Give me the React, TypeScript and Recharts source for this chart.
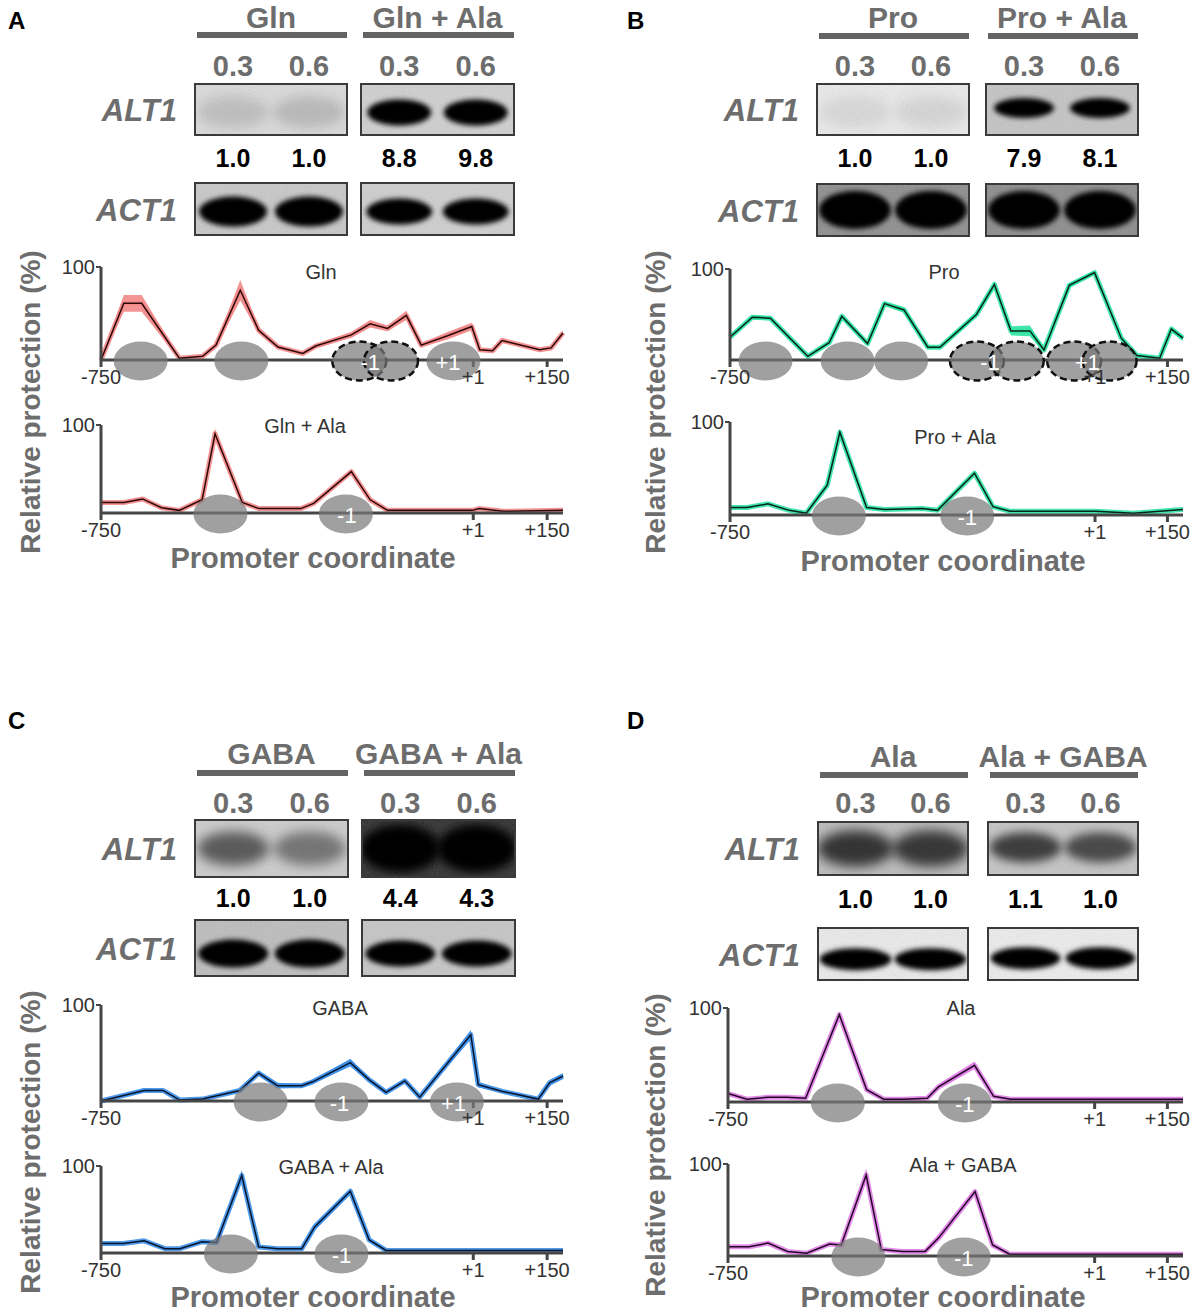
import React from 'react';
import { ComposedChart, Area, Line, XAxis, YAxis, ReferenceDot } from 'recharts';

// ---------- profile data (position in bp, mean % protection, error) ----------
const X_TICKS = [-750, 1, 150];
const X_MAX = 182;

const glnPos = [-750, -704, -668, -592, -545, -518, -469, -432, -393, -343, -317, -245, -207, -172, -134, -104, -51, -2, 14, 40, 59, 135, 158, 182];
const glnMean = [0, 61, 61, 2, 4, 16, 75, 32, 14, 7, 15, 27, 39, 34, 48, 16, 26, 36, 11, 10, 21, 11, 13, 29];
const glnErr = [1, 9, 9, 1, 1, 2, 11, 3, 2, 1, 2, 3, 4, 3, 5, 2, 4, 4, 1, 1, 2, 1, 1, 3];

const glnAlaPos = [-750, -704, -666, -628, -592, -546, -520, -465, -431, -347, -321, -245, -207, -172, -1, 13, 62, 182];
const glnAlaMean = [12, 12, 16, 6, 3, 15, 90, 12, 5, 5, 11, 47, 15, 3, 3, 5, 2, 3];
const glnAlaErr = [2, 2, 2, 1, 1, 3, 6, 2, 1, 1, 1, 3, 2, 1, 1, 1, 1, 1];

const proPos = [-750, -704, -667, -590, -546, -520, -467, -432, -392, -343, -318, -243, -206, -172, -133, -104, -52, 0, 55, 87, 134, 158, 182];
const proMean = [25, 47, 46, 4, 19, 48, 18, 62, 55, 14, 14, 50, 83, 32, 32, 11, 82, 96, 24, 5, 2, 34, 24];
const proErr = [2, 2, 2, 1, 2, 3, 2, 2, 3, 2, 2, 3, 2, 5, 6, 2, 3, 2, 2, 1, 1, 3, 3];

const proAlaPos = [-750, -715, -672, -628, -593, -550, -524, -469, -432, -354, -323, -247, -209, -174, 2, 80, 182];
const proAlaMean = [8, 8, 12, 5, 2, 32, 89, 8, 6, 7, 5, 45, 9, 4, 4, 2, 6];
const proAlaErr = [1, 1, 1, 1, 1, 2, 3, 1, 1, 1, 1, 2, 1, 1, 1, 1, 1];

const gabaPos = [-750, -663, -625, -591, -545, -470, -432, -394, -345, -323, -247, -209, -175, -137, -107, -4, 11, 60, 132, 155, 182];
const gabaMean = [0, 11, 11, 1, 2, 11, 29, 16, 16, 20, 40, 22, 9, 21, 4, 69, 17, 10, 2, 19, 26];
const gabaErr = [1, 2, 1, 1, 1, 1, 2, 3, 2, 2, 4, 2, 2, 2, 1, 5, 3, 1, 1, 3, 3];

const gabaAlaPos = [-750, -705, -663, -621, -591, -546, -517, -466, -432, -394, -345, -319, -247, -209, -175, -5, 182];
const gabaAlaMean = [11, 11, 14, 5, 5, 13, 12, 89, 7, 5, 5, 30, 71, 15, 3, 3, 3];
const gabaAlaErr = [1, 1, 1, 1, 1, 1, 1, 6, 1, 1, 1, 4, 3, 2, 1, 1, 1];

const alaPos = [-750, -711, -668, -630, -591, -522, -466, -431, -389, -342, -319, -245, -206, -171, -1, 182];
const alaMean = [9, 3, 5, 5, 4, 93, 13, 3, 3, 4, 16, 39, 6, 3, 3, 3];
const alaErr = [1, 1, 1, 1, 1, 2, 2, 1, 1, 1, 3, 4, 1, 1, 1, 1];

const alaGabaPos = [-750, -707, -668, -628, -589, -542, -518, -467, -436, -393, -346, -318, -244, -208, -173, 0, 182];
const alaGabaMean = [10, 10, 14, 5, 3, 13, 12, 88, 7, 5, 5, 20, 70, 12, 2, 2, 2];
const alaGabaErr = [1, 1, 1, 1, 1, 1, 1, 7, 1, 1, 1, 4, 3, 2, 1, 1, 1];

// nucleosome positions (bp); dashed = fuzzy / alternative position
const glnNucs = [{ at: -670 }, { at: -467 }, { at: -229, dashed: true }, { at: -165, dashed: true }, { at: -39 }];
const glnNucLabels = [{ at: -207, text: '-1' }, { at: -50, text: '+1' }];
const glnAlaNucs = [{ at: -509 }, { at: -256 }];
const glnAlaNucLabels = [{ at: -254, text: '-1' }];
const proNucs = [{ at: -677 }, { at: -508 }, { at: -398 }, { at: -242, dashed: true }, { at: -160, dashed: true }, { at: -42, dashed: true }, { at: 31, dashed: true }];
const proNucLabels = [{ at: -215, text: '-1' }, { at: -15, text: '+1' }];
const proAlaNucs = [{ at: -526 }, { at: -262 }];
const proAlaNucLabels = [{ at: -262, text: '-1' }];
const gabaNucs = [{ at: -428 }, { at: -265 }, { at: -32 }];
const gabaNucLabels = [{ at: -269, text: '-1' }, { at: -39, text: '+1' }];
const gabaAlaNucs = [{ at: -488 }, { at: -265 }];
const gabaAlaNucLabels = [{ at: -265, text: '-1' }];
const alaNucs = [{ at: -525 }, { at: -265 }];
const alaNucLabels = [{ at: -265, text: '-1' }];
const alaGabaNucs = [{ at: -483 }, { at: -267 }];
const alaGabaNucLabels = [{ at: -267, text: '-1' }];

// ---------- northern blot text ----------
const odLabels = ['0.3', '0.6'];
const conditionsA = ['Gln', 'Gln + Ala'];
const conditionsB = ['Pro', 'Pro + Ala'];
const conditionsC = ['GABA', 'GABA + Ala'];
const conditionsD = ['Ala', 'Ala + GABA'];
const alt1A = ['1.0', '1.0', '8.8', '9.8'];
const alt1B = ['1.0', '1.0', '7.9', '8.1'];
const alt1C = ['1.0', '1.0', '4.4', '4.3'];
const alt1D = ['1.0', '1.0', '1.1', '1.0'];

const FONT = "'Liberation Sans', Arial, Helvetica, sans-serif";
const GRAY = '#6d6d6d';
const AXIS = '#464646';

type Nuc = { at: number; dashed?: boolean };
type NucLabel = { at: number; text: string };
type GelLook = { bg: string; alpha: number[]; rx: number; ry: number; cy: number; blur: number };

const Y_W = 52;
const M_T = 14;
const M_R = 8;
const X_H = 36;

const fmtTick = (v: number) => (v > 0 ? `+${v}` : `${v}`);

interface ProfileProps {
  axisX: number; plotW: number; top: number; zero: number;
  pos: number[]; mean: number[]; err: number[];
  nucs: Nuc[]; labels: NucLabel[];
  fill: string; stroke: string;
}

function Profile({ axisX, plotW, top, zero, pos, mean, err, nucs, labels, fill, stroke }: ProfileProps) {
  const plotH = zero - top;
  const width = Y_W + plotW + M_R;
  const height = M_T + plotH + X_H;
  const data = pos.map((p, i) => ({
    pos: p,
    mean: mean[i],
    band: [Math.max(0, mean[i] - err[i]), mean[i] + err[i]],
  }));
  return (
    <div style={{ position: 'absolute', left: axisX - Y_W, top: top - M_T, width, height }}>
      <ComposedChart width={width} height={height} data={data} margin={{ top: M_T, right: M_R, bottom: 0, left: 0 }}>
        <XAxis
          type="number"
          dataKey="pos"
          domain={[-750, X_MAX]}
          ticks={X_TICKS}
          interval={0}
          tickFormatter={fmtTick}
          height={X_H}
          tickSize={7}
          tickMargin={3}
          axisLine={{ stroke: AXIS, strokeWidth: 3 }}
          tickLine={{ stroke: AXIS, strokeWidth: 3 }}
          tick={{ fontSize: 20, fill: '#333', fontFamily: FONT }}
        />
        <YAxis
          type="number"
          domain={[0, 100]}
          ticks={[100]}
          width={Y_W}
          tickSize={5}
          tickMargin={1}
          axisLine={{ stroke: AXIS, strokeWidth: 3 }}
          tickLine={{ stroke: AXIS, strokeWidth: 2 }}
          tick={{ fontSize: 20, fill: '#333', fontFamily: FONT }}
        />
        {nucs.map((n, i) => (
          <ReferenceDot
            key={`n${i}`}
            x={n.at}
            y={0}
            shape={(p: any) => (
              <ellipse
                cx={p.cx}
                cy={p.cy + 1}
                rx={27}
                ry={19.5}
                fill="#777"
                fillOpacity={0.7}
                stroke={n.dashed ? '#111' : 'none'}
                strokeWidth={2.5}
                strokeDasharray={n.dashed ? '7 4' : undefined}
              />
            )}
          />
        ))}
        <Area dataKey="band" stroke="none" fill={fill} fillOpacity={0.9} isAnimationActive={false} />
        <Line dataKey="mean" stroke={fill} strokeOpacity={0.9} strokeWidth={5} strokeLinejoin="round" dot={false} activeDot={false} isAnimationActive={false} />
        <Line dataKey="mean" stroke={stroke} strokeWidth={1.5} dot={false} activeDot={false} isAnimationActive={false} />
        {labels.map((l, i) => (
          <ReferenceDot
            key={`l${i}`}
            x={l.at}
            y={0}
            shape={(p: any) => (
              <text x={p.cx} y={p.cy + 2} textAnchor="middle" dominantBaseline="central" fontSize={22} fill="#fff" fontFamily={FONT}>
                {l.text}
              </text>
            )}
          />
        ))}
      </ComposedChart>
    </div>
  );
}

// ---------- blot panel (drawn as an svg overlay) ----------
interface BlotLayout {
  letter: string; lx: number; ly: number;
  boxes: number[][];
  headerY: number; barY: number; concY: number;
  alt1Y: number; alt1H: number; ratioY: number; act1Y: number; act1H: number;
  conds: string[]; ratios: string[];
  alt1Look: GelLook[]; act1Look: GelLook[];
  yLabelX: number; yLabelY: number; xLabelX: number; xLabelY: number;
  titles: { text: string; x: number; y: number }[];
}

function Gel({ id, x, y, w, h, look }: { id: string; x: number; y: number; w: number; h: number; look: GelLook }) {
  const lanes = [x + w * 0.25, x + w * 0.75];
  return (
    <g>
      <defs>
        <clipPath id={`clip-${id}`}>
          <rect x={x} y={y} width={w} height={h} />
        </clipPath>
        <filter id={`blur-${id}`} x="-50%" y="-50%" width="200%" height="200%">
          <feGaussianBlur stdDeviation={look.blur} />
        </filter>
      </defs>
      <g clipPath={`url(#clip-${id})`}>
        <rect x={x} y={y} width={w} height={h} fill={look.bg} />
        <rect x={x} y={y} width={w} height={h} filter="url(#grain)" opacity={0.25} />
        {lanes.map((cx, i) => (
          <ellipse
            key={i}
            cx={cx}
            cy={y + h * look.cy}
            rx={look.rx}
            ry={look.ry}
            fill="#000"
            fillOpacity={look.alpha[i]}
            filter={`url(#blur-${id})`}
          />
        ))}
      </g>
      <rect x={x} y={y} width={w} height={h} fill="none" stroke="#3a3a3a" strokeWidth={2} />
    </g>
  );
}

function Blot({ L }: { L: BlotLayout }) {
  const lanes = L.boxes.flatMap(([bx, bw]) => [bx + bw * 0.25, bx + bw * 0.75]);
  const labelX = L.boxes[0][0] - 18;
  return (
    <g fontFamily={FONT}>
      <text x={L.lx} y={L.ly} fontSize={24} fontWeight="bold" fill="#000">{L.letter}</text>
      {L.boxes.map(([bx, bw], i) => (
        <g key={i}>
          <text x={bx + bw / 2} y={L.headerY} textAnchor="middle" dominantBaseline="central" fontSize={30} fontWeight="bold" fill={GRAY}>
            {L.conds[i]}
          </text>
          <rect x={bx + 2} y={L.barY} width={bw - 2} height={6} fill="#636363" />
          <Gel id={`${L.letter}a${i}`} x={bx} y={L.alt1Y} w={bw} h={L.alt1H} look={L.alt1Look[i]} />
          <Gel id={`${L.letter}c${i}`} x={bx} y={L.act1Y} w={bw} h={L.act1H} look={L.act1Look[i]} />
        </g>
      ))}
      {lanes.map((cx, i) => (
        <g key={i}>
          <text x={cx} y={L.concY} textAnchor="middle" dominantBaseline="central" fontSize={29} fontWeight="bold" fill={GRAY}>
            {odLabels[i % 2]}
          </text>
          <text x={cx} y={L.ratioY} textAnchor="middle" dominantBaseline="central" fontSize={25} fontWeight="bold" fill="#000">
            {L.ratios[i]}
          </text>
        </g>
      ))}
      <text x={labelX} y={L.alt1Y + L.alt1H / 2 + 1} textAnchor="end" dominantBaseline="central" fontSize={31} fontWeight="bold" fontStyle="italic" fill={GRAY}>
        ALT1
      </text>
      <text x={labelX} y={L.act1Y + L.act1H / 2 + 1} textAnchor="end" dominantBaseline="central" fontSize={31} fontWeight="bold" fontStyle="italic" fill={GRAY}>
        ACT1
      </text>
      <text
        x={L.yLabelX}
        y={L.yLabelY}
        transform={`rotate(-90 ${L.yLabelX} ${L.yLabelY})`}
        textAnchor="middle"
        dominantBaseline="central"
        fontSize={28}
        fontWeight="bold"
        fill={GRAY}
      >
        Relative protection (%)
      </text>
      <text x={L.xLabelX} y={L.xLabelY} textAnchor="middle" dominantBaseline="central" fontSize={29} fontWeight="bold" fill={GRAY}>
        Promoter coordinate
      </text>
      {L.titles.map((t, i) => (
        <text key={i} x={t.x} y={t.y} textAnchor="middle" dominantBaseline="central" fontSize={20} fill="#333">
          {t.text}
        </text>
      ))}
    </g>
  );
}

const faint = (bg: string, a: number): GelLook => ({ bg, alpha: [a, a * 1.2], rx: 36, ry: 16, cy: 0.55, blur: 6 });
const strong = (bg: string, rx: number, ry: number, cy: number): GelLook => ({ bg, alpha: [1, 1], rx, ry, cy, blur: 2.5 });

const BLOTS: BlotLayout[] = [
  {
    letter: 'A', lx: 8, ly: 29, boxes: [[195, 152], [361, 153]],
    headerY: 17, barY: 32, concY: 66, alt1Y: 84, alt1H: 51, ratioY: 158, act1Y: 183, act1H: 52,
    conds: conditionsA, ratios: alt1A,
    alt1Look: [faint('#dcdcdc', 0.12), strong('#d0d0d0', 32, 13, 0.56)],
    act1Look: [strong('#c8c8c8', 34, 15, 0.55), strong('#cfcfcf', 33, 13, 0.55)],
    yLabelX: 30, yLabelY: 402, xLabelX: 313, xLabelY: 558,
    titles: [{ text: conditionsA[0], x: 321, y: 272 }, { text: conditionsA[1], x: 305, y: 426 }],
  },
  {
    letter: 'B', lx: 627, ly: 29, boxes: [[817, 152], [986, 152]],
    headerY: 17, barY: 33, concY: 66, alt1Y: 84, alt1H: 51, ratioY: 158, act1Y: 184, act1H: 52,
    conds: conditionsB, ratios: alt1B,
    alt1Look: [faint('#ececec', 0.07), strong('#c4c4c4', 30, 10, 0.47)],
    act1Look: [strong('#8c8c8c', 36, 19, 0.5), strong('#8a8a8a', 36, 19, 0.5)],
    yLabelX: 655, yLabelY: 402, xLabelX: 943, xLabelY: 561,
    titles: [{ text: conditionsB[0], x: 944, y: 272 }, { text: conditionsB[1], x: 955, y: 437 }],
  },
  {
    letter: 'C', lx: 8, ly: 729, boxes: [[195, 153], [362, 153]],
    headerY: 753, barY: 770, concY: 803, alt1Y: 820, alt1H: 57, ratioY: 898, act1Y: 920, act1H: 56,
    conds: conditionsC, ratios: alt1C,
    alt1Look: [{ bg: '#cdcdcd', alpha: [0.55, 0.42], rx: 36, ry: 17, cy: 0.5, blur: 6 }, { bg: '#2a2a2a', alpha: [1, 1], rx: 40, ry: 24, cy: 0.5, blur: 5 }],
    act1Look: [strong('#bdbdbd', 35, 14, 0.6), strong('#c6c6c6', 35, 13, 0.6)],
    yLabelX: 30, yLabelY: 1142, xLabelX: 313, xLabelY: 1297,
    titles: [{ text: conditionsC[0], x: 340, y: 1008 }, { text: conditionsC[1], x: 331, y: 1167 }],
  },
  {
    letter: 'D', lx: 627, ly: 729, boxes: [[818, 150], [988, 150]],
    headerY: 756, barY: 772, concY: 803, alt1Y: 822, alt1H: 53, ratioY: 899, act1Y: 928, act1H: 52,
    conds: conditionsD, ratios: alt1D,
    alt1Look: [{ bg: '#bcbcbc', alpha: [0.72, 0.7], rx: 38, ry: 18, cy: 0.5, blur: 6 }, { bg: '#c4c4c4', alpha: [0.68, 0.62], rx: 36, ry: 15, cy: 0.48, blur: 5 }],
    act1Look: [strong('#ececec', 36, 11, 0.6), strong('#eeeeee', 35, 11, 0.58)],
    yLabelX: 655, yLabelY: 1145, xLabelX: 943, xLabelY: 1297,
    titles: [{ text: conditionsD[0], x: 961, y: 1008 }, { text: conditionsD[1], x: 963, y: 1165 }],
  },
];

const PROFILES: ProfileProps[] = [
  { axisX: 101, plotW: 462, top: 267, zero: 360, pos: glnPos, mean: glnMean, err: glnErr, nucs: glnNucs, labels: glnNucLabels, fill: '#f28a8a', stroke: '#2a0808' },
  { axisX: 101, plotW: 462, top: 425, zero: 513, pos: glnAlaPos, mean: glnAlaMean, err: glnAlaErr, nucs: glnAlaNucs, labels: glnAlaNucLabels, fill: '#f28a8a', stroke: '#2a0808' },
  { axisX: 730, plotW: 453, top: 269, zero: 360, pos: proPos, mean: proMean, err: proErr, nucs: proNucs, labels: proNucLabels, fill: '#2fe3a3', stroke: '#0a241a' },
  { axisX: 730, plotW: 453, top: 422, zero: 515, pos: proAlaPos, mean: proAlaMean, err: proAlaErr, nucs: proAlaNucs, labels: proAlaNucLabels, fill: '#2fe3a3', stroke: '#0a241a' },
  { axisX: 101, plotW: 462, top: 1005, zero: 1101, pos: gabaPos, mean: gabaMean, err: gabaErr, nucs: gabaNucs, labels: gabaNucLabels, fill: '#3d8fe8', stroke: '#08152a' },
  { axisX: 101, plotW: 462, top: 1166, zero: 1253, pos: gabaAlaPos, mean: gabaAlaMean, err: gabaAlaErr, nucs: gabaAlaNucs, labels: gabaAlaNucLabels, fill: '#3d8fe8', stroke: '#08152a' },
  { axisX: 728, plotW: 455, top: 1008, zero: 1102, pos: alaPos, mean: alaMean, err: alaErr, nucs: alaNucs, labels: alaNucLabels, fill: '#df7fe6', stroke: '#230826' },
  { axisX: 728, plotW: 455, top: 1164, zero: 1256, pos: alaGabaPos, mean: alaGabaMean, err: alaGabaErr, nucs: alaGabaNucs, labels: alaGabaNucLabels, fill: '#df7fe6', stroke: '#230826' },
];

export default function App() {
  return (
    <div style={{ position: 'absolute', left: 0, top: 0, width: 1200, height: 1315, background: '#fff', overflow: 'hidden', fontFamily: FONT }}>
      <svg width={1200} height={1315} style={{ position: 'absolute', left: 0, top: 0 }}>
        <defs>
          <filter id="grain" x="0" y="0" width="100%" height="100%">
            <feTurbulence type="fractalNoise" baseFrequency="0.9" numOctaves={2} seed={4} />
            <feColorMatrix type="saturate" values="0" />
          </filter>
        </defs>
        {BLOTS.map((b) => (
          <Blot key={b.letter} L={b} />
        ))}
      </svg>
      {PROFILES.map((p, i) => (
        <Profile key={i} {...p} />
      ))}
    </div>
  );
}
